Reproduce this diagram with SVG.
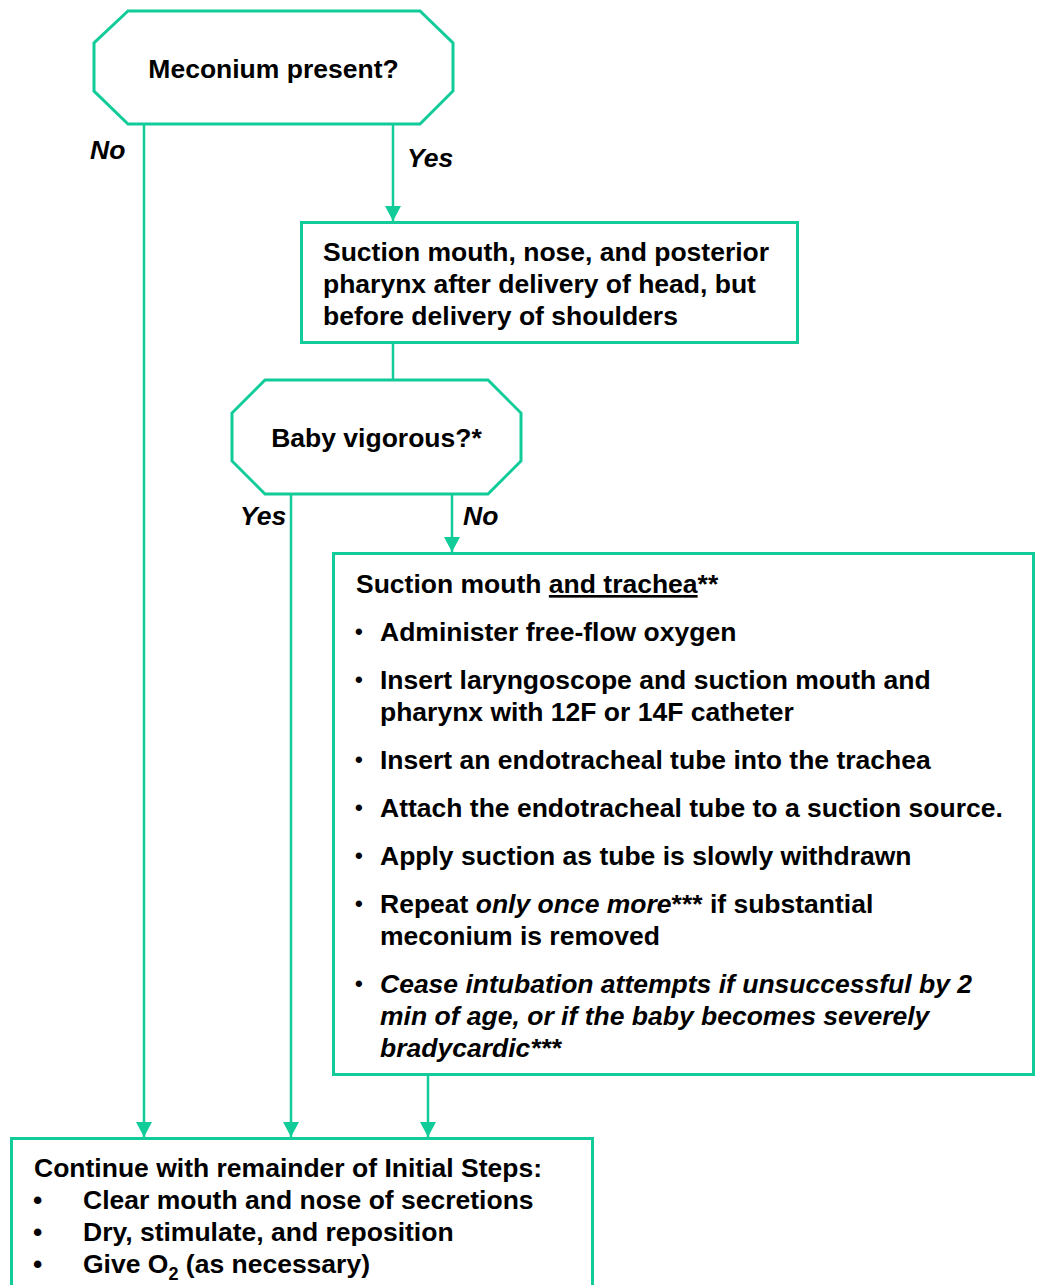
<svg xmlns="http://www.w3.org/2000/svg" width="1040" height="1285" viewBox="0 0 1040 1285">
<style>
.shape{fill:#ffffff;stroke:#11CC99;stroke-width:3}
.conn{fill:none;stroke:#11CC99;stroke-width:2.5}
text{font-family:"Liberation Sans",Arial,sans-serif;font-size:26.5px;font-weight:bold;fill:#000000}
.lbl{font-style:italic}
.it{font-style:italic}
.ul{text-decoration:underline}
.b{font-size:22px}
</style>
<defs>
<marker id="arrow" markerUnits="userSpaceOnUse" markerWidth="15" markerHeight="16" refX="15" refY="8" orient="auto">
<path d="M0,0 L15,8 L0,16 z" fill="#11CC99"/>
</marker>
</defs>
<rect width="1040" height="1285" fill="#ffffff"/>
<g id="connectors">
<line class="conn" x1="144" y1="124" x2="144" y2="1137" marker-end="url(#arrow)"/>
<line class="conn" x1="393" y1="124" x2="393" y2="221" marker-end="url(#arrow)"/>
<line class="conn" x1="393" y1="343" x2="393" y2="380"/>
<line class="conn" x1="291" y1="494" x2="291" y2="1137" marker-end="url(#arrow)"/>
<line class="conn" x1="452" y1="494" x2="452" y2="552" marker-end="url(#arrow)"/>
<line class="conn" x1="428" y1="1075" x2="428" y2="1137" marker-end="url(#arrow)"/>
<text class="lbl" x="90" y="159">No</text>
<text class="lbl" x="407" y="167">Yes</text>
<text class="lbl" x="240" y="525">Yes</text>
<text class="lbl" x="463" y="525">No</text>
</g>
<g id="meconium">
<polygon class="shape" points="128,11 420,11 453,43 453,91 420,124 128,124 94,91 94,43"/>
<text x="273.5" y="78" text-anchor="middle">Meconium present?</text>
</g>
<g id="suction-head">
<rect class="shape" x="301.5" y="222.5" width="496" height="120"/>
<text x="323" y="261">Suction mouth, nose, and posterior</text>
<text x="323" y="293">pharynx after delivery of head, but</text>
<text x="323" y="325">before delivery of shoulders</text>
</g>
<g id="vigorous">
<polygon class="shape" points="265,380 488,380 521,413 521,461 488,494 265,494 232,461 232,413"/>
<text x="376.5" y="447" text-anchor="middle">Baby vigorous?*</text>
</g>
<g id="suction-trachea">
<rect class="shape" x="333.5" y="553.5" width="700" height="521"/>
<text x="356" y="593">Suction mouth <tspan class="ul">and trachea</tspan>**</text>
<text class="b" x="355" y="639">•</text><text x="380" y="641">Administer free-flow oxygen</text>
<text class="b" x="355" y="687">•</text><text x="380" y="689">Insert laryngoscope and suction mouth and</text>
<text x="380" y="721">pharynx with 12F or 14F catheter</text>
<text class="b" x="355" y="767">•</text><text x="380" y="769">Insert an endotracheal tube into the trachea</text>
<text class="b" x="355" y="815">•</text><text x="380" y="817">Attach the endotracheal tube to a suction source.</text>
<text class="b" x="355" y="863">•</text><text x="380" y="865">Apply suction as tube is slowly withdrawn</text>
<text class="b" x="355" y="911">•</text><text x="380" y="913">Repeat <tspan class="it">only once more</tspan>*** if substantial</text>
<text x="380" y="945">meconium is removed</text>
<text class="b" x="355" y="991">•</text><text class="it" x="380" y="993">Cease intubation attempts if unsuccessful by 2</text>
<text class="it" x="380" y="1025">min of age, or if the baby becomes severely</text>
<text class="it" x="380" y="1057">bradycardic***</text>
</g>
<g id="continue">
<rect class="shape" x="11.5" y="1138.5" width="581" height="170"/>
<text x="34" y="1177">Continue with remainder of Initial Steps:</text>
<text x="33" y="1209">•</text><text x="83" y="1209">Clear mouth and nose of secretions</text>
<text x="33" y="1241">•</text><text x="83" y="1241">Dry, stimulate, and reposition</text>
<text x="33" y="1273">•</text><text x="83" y="1273">Give O<tspan font-size="18" dy="7">2</tspan><tspan dy="-7"> (as necessary)</tspan></text>
</g>
</svg>
